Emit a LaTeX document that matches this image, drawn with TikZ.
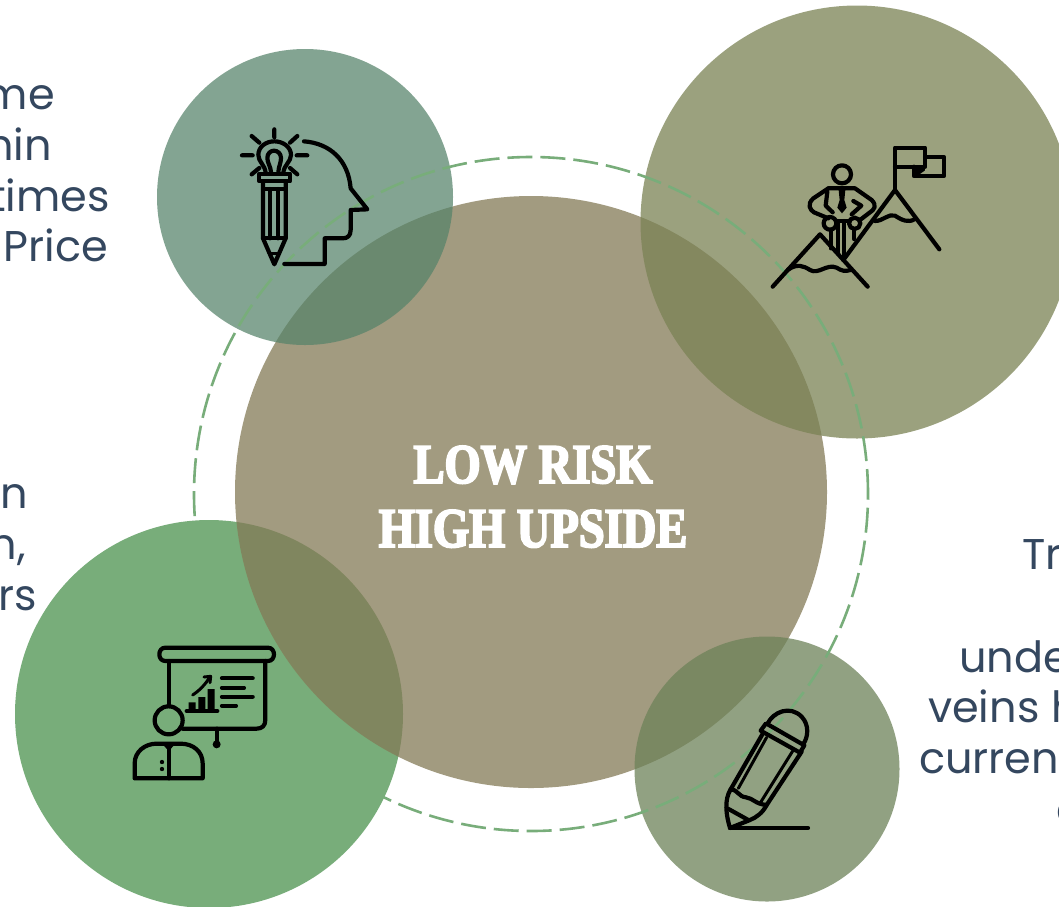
\documentclass[tikz,border=0pt]{standalone}
\usepackage{fontspec}
\setmainfont{Poppins}
\newfontfamily\titlefont[FakeBold=3.4,FakeStretch=.83]{Liberation Serif Bold}
\definecolor{slatetext}{HTML}{34475F}
\definecolor{maincol}{HTML}{847A56}
\definecolor{tealcol}{HTML}{56836A}
\definecolor{olivecol}{HTML}{7A8254}
\definecolor{greencol}{HTML}{78AD7A}
\definecolor{brcol}{HTML}{6D8259}
\definecolor{ringcol}{HTML}{78AD7A}
\tikzset{x=1pt,y=-1pt,
 blob/.style={circle,draw=none,minimum size=#1,inner sep=0pt},
 ico/.style={draw=black,line width=4.2pt,line cap=round,line join=round},
 ico2/.style={draw=black,line width=3pt,line cap=round,line join=round},
 sidetext/.style={text=slatetext,font=\fontsize{43}{51}\selectfont,inner sep=0pt},
 titletext/.style={text=white,font=\titlefont\fontsize{56}{63}\selectfont,inner sep=0pt}}
\begin{document}
\begin{tikzpicture}
\useasboundingbox (0,0) rectangle (1059,906);
\clip (0,0) rectangle (1059,906);
\fill[white] (0,0) rectangle (1059,906);
\node[blob=388pt,fill=greencol] (green) at (209,714) {};
\node[blob=592pt,fill=maincol,fill opacity=.75] (centre) at (531,492) {};
\node[blob=296pt,fill=tealcol,fill opacity=.73] (teal) at (305,197) {};
\node[blob=433pt,fill=olivecol,fill opacity=.75] (olive) at (857,222) {};
\node[blob=265pt,fill=brcol,fill opacity=.75] (br) at (767,769) {};
\node[blob=674pt,draw=ringcol,line width=2.6pt,dash pattern=on 25pt off 8pt] (ring) at (531,494) {};
\node[titletext,anchor=base] (title1) at (533,483) {LOW RISK};
\node[titletext,anchor=base] (title2) at (533,547) {HIGH UPSIDE};
% side text
\node[sidetext,anchor=base east] (a1) at (55,109) {me};
\node[sidetext,anchor=base east] (a2) at (52,160) {hin};
\node[sidetext,anchor=base east] (a3) at (110,211) {times};
\node[sidetext,anchor=base east] (a4) at (108,261) {Price};
\node[sidetext,anchor=base east] (b1) at (28,508) {n};
\node[sidetext,anchor=base east] (b2) at (26,559) {n,};
\node[sidetext,anchor=base east] (b3) at (37,610) {rs};
\node[sidetext,anchor=base west] (c1) at (1022,569) {Tr};
\node[sidetext,anchor=base west] (c2) at (959,672) {unde};
\node[sidetext,anchor=base west] (c3) at (928,722) {veins h};
\node[sidetext,anchor=base west] (c4) at (919,773) {curren};
\node[sidetext,anchor=base west] (c5) at (1056,824) {c};
% head + bulb + pencil icon
\begin{scope}[shift={(220,120)},x=.3333pt,y=-.3333pt]
\draw[ico] (252,64) .. controls (330,70) and (385,120) .. (392,205) -- (442,268) -- (392,270) -- (392,330) .. controls (392,348) and (382,355) .. (368,355) -- (314,355) -- (314,432) -- (193,432);
\draw[ico] (137,158) .. controls (135,135) and (115,125) .. (115,105) .. controls (115,80) and (138,64) .. (163,64) .. controls (188,64) and (213,80) .. (213,105) .. controls (213,125) and (192,135) .. (190,158);
\draw[ico] (153,156) .. controls (152,140) and (142,128) .. (142,114) .. controls (142,100) and (152,92) .. (162,92) .. controls (172,92) and (183,100) .. (183,114) .. controls (183,128) and (176,140) .. (175,156);
\draw[ico] (163,28) -- (163,52) (95,48) -- (118,68) (232,48) -- (210,68) (66,106) -- (98,106) (230,106) -- (262,106) (95,163) -- (118,144) (232,163) -- (210,144);
\draw[ico] (118,161) rectangle (210,184);
\draw[ico] (129,184) -- (129,355) -- (163,433) -- (197,355) -- (197,184);
\draw[ico] (129,207) -- (197,207) (129,355) -- (197,355) (151,207) -- (151,355) (175,207) -- (175,355);
\draw[ico2] (147,400) -- (179,400);
\end{scope}
% mountains + man
\begin{scope}[shift={(760,135)},x=.3333pt,y=-.3333pt]
\draw[ico] (38,455) -- (180,298) -- (323,455);
\draw[ico] (83,405) .. controls (110,385) and (130,392) .. (150,405) .. controls (175,420) and (200,385) .. (230,398) .. controls (245,408) and (255,410) .. (272,405);
\draw[ico] (250,375) -- (405,165) -- (538,343);
\draw[ico] (345,258) .. controls (370,258) and (385,235) .. (405,242) .. controls (425,255) and (445,265) .. (465,252);
\draw[ico] (405,165) -- (405,38) -- (495,38) -- (495,95) -- (405,95);
\draw[ico] (495,66) -- (552,66) -- (552,123) -- (462,123) -- (462,95);
\fill (462,95) -- (495,95) -- (495,106) -- (472,123) -- (462,123) -- cycle;
\draw[ico] (246,118) circle[radius=27];
\draw[ico] (205,160) -- (285,160) -- (335,195) .. controls (352,212) and (342,225) .. (330,232) -- (300,255);
\draw[ico] (205,160) -- (160,190) .. controls (140,208) and (150,225) .. (162,232) -- (205,250);
\draw[ico] (202,170) -- (197,212) -- (218,232) (280,198) -- (304,212) -- (275,238);
\fill (236,165) -- (256,165) -- (253,195) -- (260,218) -- (246,235) -- (232,218) -- (239,195) -- cycle;
\draw[ico] (210,265) circle[radius=19] (284,265) circle[radius=17];
\draw[ico] (212,284) -- (212,340) (282,282) -- (282,312);
\draw[ico] (228,258) -- (268,258) (233,258) -- (233,352) (252,258) -- (252,372);
\end{scope}
% presentation icon
\begin{scope}[shift={(120,635)},x=.3333pt,y=-.3333pt]
\draw[ico] (136,38) -- (444,38) .. controls (468,38) and (468,78) .. (444,78) -- (136,78) .. controls (112,78) and (112,38) .. (136,38) -- cycle;
\draw[ico] (146,78) -- (146,208);
\draw[ico] (436,78) -- (436,255) .. controls (436,272) and (426,281) .. (410,281) -- (187,281);
\draw[ico] (290,281) -- (290,328);
\fill (290,328) circle[radius=12];
\draw[ico] (146,256) circle[radius=42];
\draw[ico] (44,385) .. controls (44,350) and (75,326) .. (110,326) -- (182,326) .. controls (220,326) and (248,350) .. (248,385) -- (248,430) -- (44,430) -- cycle;
\draw[ico] (146,340) -- (146,430);
\fill (128,328) -- (165,328) -- (146,348) -- cycle;
\fill (126,381) circle[radius=6.5] (126,402) circle[radius=6.5];
\draw[ico] (200,228) -- (292,228);
\fill (206,224) rectangle (227,202) (235,224) rectangle (256,186) (263,224) rectangle (284,162);
\draw[ico2] (218,180) .. controls (240,165) and (255,150) .. (268,128);
\draw[ico2] (252,126) -- (272,124) -- (270,143);
\draw[ico] (306,130) -- (398,130) (306,158) -- (372,158) (306,185) -- (398,185) (306,212) -- (348,212);
\end{scope}
% pencil icon
\begin{scope}[shift={(710,700)},x=.3333pt,y=-.3333pt]
\draw[ico] (60,384) -- (294,384);
\draw[ico] (60,384) .. controls (48,345) and (42,300) .. (62,268) -- (160,98);
\draw[ico] (60,384) -- (120,360) .. controls (140,352) and (158,338) .. (170,315) -- (275,155);
\draw[ico] (152,92) -- (168,70) -- (283,136) -- (270,158) -- cycle;
\draw[ico] (172,72) .. controls (190,35) and (240,15) .. (275,50) .. controls (298,75) and (295,110) .. (280,132);
\draw[ico2] (170,112) -- (85,265) (250,150) -- (150,310);
\draw[ico] (62,268) .. controls (85,270) and (85,290) .. (108,292) .. controls (130,295) and (135,312) .. (170,315);
\draw[ico] (52,325) -- (115,360);
\end{scope}
\end{tikzpicture}
\end{document}
